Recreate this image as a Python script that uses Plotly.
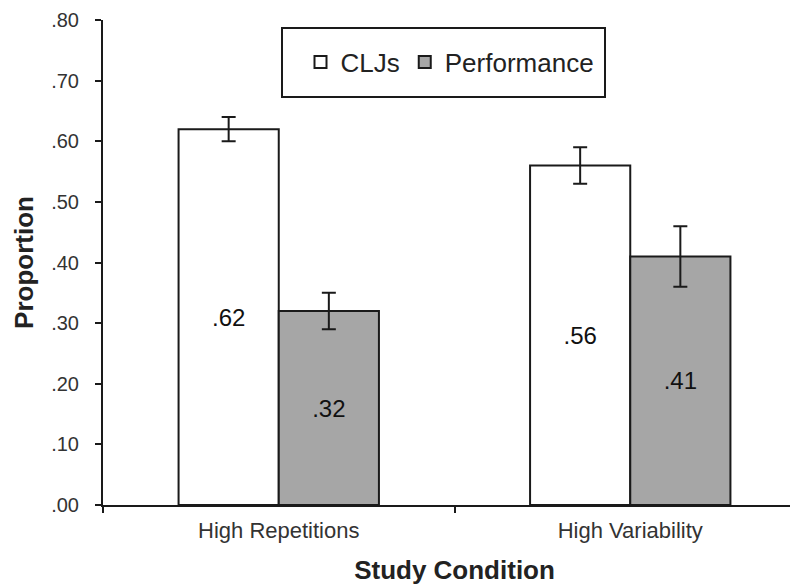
import plotly.graph_objects as go

categories = ["High Repetitions", "High Variability"]
clj_values = [0.62, 0.56]
clj_errors = [0.02, 0.03]
perf_values = [0.32, 0.41]
perf_errors = [0.03, 0.05]
y_tickvals = [0, 0.1, 0.2, 0.3, 0.4, 0.5, 0.6, 0.7, 0.8]
y_ticktext = [".00", ".10", ".20", ".30", ".40", ".50", ".60", ".70", ".80"]

def lab(v):
    return "." + f"{v:.2f}".split(".")[1]

font = "Liberation Sans, Arial, sans-serif"

fig = go.Figure()
fig.add_trace(go.Bar(
    name="CLJs", x=categories, y=clj_values,
    marker=dict(color="white", line=dict(color="#1a1a1a", width=2)),
    error_y=dict(type="data", array=clj_errors, color="#1a1a1a", thickness=2, width=7),
    text=[lab(v) for v in clj_values], textposition="inside", insidetextanchor="middle",
    textfont=dict(size=24, color="#111", family=font),
))
fig.add_trace(go.Bar(
    name="Performance", x=categories, y=perf_values,
    marker=dict(color="#a6a6a6", line=dict(color="#1a1a1a", width=2)),
    error_y=dict(type="data", array=perf_errors, color="#1a1a1a", thickness=2, width=7),
    text=[lab(v) for v in perf_values], textposition="inside", insidetextanchor="middle",
    textfont=dict(size=24, color="#111", family=font),
))

L, T, PW, PH = 103, 20, 703, 485  # window coordinates of plot area

fig.update_layout(
    width=798, height=586,
    margin=dict(l=L - 8, r=0, t=T - 8, b=586 - (T - 8) - PH),
    paper_bgcolor="white", plot_bgcolor="white",
    barmode="group", bargap=0.43, bargroupgap=0,
    font=dict(family=font, color="#222"),
    showlegend=True,
    legend=dict(orientation="h", x=(450 - L) / PW, xanchor="center",
                y=1 - (62 - T) / PH, yanchor="middle",
                font=dict(size=26, family=font, color="#222"),
                bgcolor="rgba(0,0,0,0)", borderwidth=0, itemwidth=30,
                traceorder="normal"),
    shapes=[dict(type="rect", xref="paper", yref="paper",
                 x0=(282 - L) / PW, x1=(605 - L) / PW,
                 y0=1 - (97 - T) / PH, y1=1 - (28 - T) / PH,
                 line=dict(color="#1a1a1a", width=2), fillcolor="rgba(0,0,0,0)", layer="below")],
    xaxis=dict(
        range=[-0.5, 1.5], showline=True, linecolor="#1a1a1a", linewidth=2,
        ticks="outside", tickson="boundaries", ticklen=6, tickcolor="#1a1a1a", tickwidth=2,
        ticklabelstandoff=5,
        tickfont=dict(size=22, family=font, color="#333"),
        title=dict(text="<b>Study Condition</b>", font=dict(size=26, family=font, color="#222"), standoff=18),
        showgrid=False, zeroline=False,
    ),
    yaxis=dict(
        range=[0, 0.8], tickvals=y_tickvals, ticktext=y_ticktext,
        showline=True, linecolor="#1a1a1a", linewidth=2,
        ticks="outside", ticklen=6, tickcolor="#1a1a1a", tickwidth=2,
        ticklabelstandoff=12,
        tickfont=dict(size=20, family=font, color="#333"),
        title=dict(text="<b>Proportion</b>", font=dict(size=26, family=font, color="#222"), standoff=10),
        showgrid=False, zeroline=False,
    ),
)

fig.write_html("out.html")
